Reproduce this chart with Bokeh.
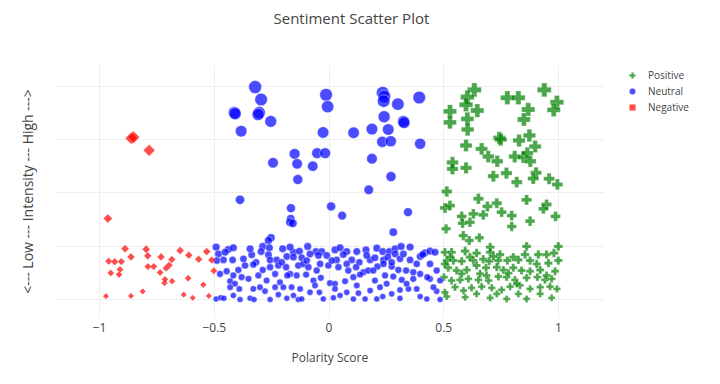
import numpy as np
from bokeh.plotting import figure
from bokeh.models import (Range1d, FixedTicker, Legend, LegendItem, ColumnDataSource,
                          Title, BoxAnnotation)
from bokeh.embed import file_html
from bokeh.resources import INLINE

# ---------------- data ----------------
categories = ["Positive", "Neutral", "Negative"]
x_ticks = [-1, -0.5, 0, 0.5, 1]
x_tick_labels = ["\u22121", "\u22120.5", "0", "0.5", "1"]
y_ticks = [0, 0.25, 0.5, 0.75, 1.0]

neg_x = [-0.964, -0.889, -0.797, -0.863, -0.96, -0.934, -0.905, -0.79, -0.732, -0.685,
         -0.649, -0.611, -0.568, -0.533, -0.511, -0.911, -0.951, -0.915, -0.789, -0.764,
         -0.697, -0.71, -0.736, -0.684, -0.717, -0.715, -0.614, -0.502, -0.548, -0.972,
         -0.863, -0.812, -0.633, -0.594, -0.524, -0.862, -0.852, -0.784]
neg_y = [0.38, 0.238, 0.236, 0.20, 0.18, 0.177, 0.178, 0.205, 0.20, 0.188,
         0.23, 0.208, 0.189, 0.225, 0.185, 0.141, 0.125, 0.117, 0.155, 0.155,
         0.161, 0.147, 0.127, 0.086, 0.078, 0.095, 0.10, 0.135, 0.069, 0.016,
         0.017, 0.038, 0.023, 0.008, 0.017, 0.757, 0.762, 0.70]

neu_x = [
    # upper scattered
    -0.322, -0.296, -0.413, -0.409, -0.304, -0.309, -0.254, -0.383, -0.013, -0.006,
    -0.026, 0.107, 0.187, 0.258, 0.234, 0.241, 0.238, 0.30, 0.393, 0.24,
    0.324, 0.327, 0.232, 0.269, 0.397, -0.15, -0.052, -0.017, -0.244, -0.139,
    -0.071, -0.136, 0.187, 0.27, 0.173, -0.388, -0.166, 0.009, 0.057, 0.344,
    -0.167, -0.17, -0.158, 0.28, -0.253, -0.264,
    # dense band
    -0.492, -0.439, -0.417, -0.289, -0.260, -0.202, -0.155, -0.129, -0.093, -0.057,
    -0.032, 0.026, 0.077, 0.121, 0.161, 0.208, 0.234, 0.263, 0.288, 0.314,
    0.353, 0.397, 0.418, 0.44,
    -0.482, -0.46, -0.42, -0.337, -0.318, -0.296, -0.264, -0.257, -0.228, -0.184,
    -0.155, -0.119, -0.083, -0.046, -0.01, 0.033, 0.062, 0.099, 0.132, 0.179,
    0.2, 0.237, 0.256, 0.288, 0.309, 0.353, 0.408, 0.462,
    -0.475, -0.446, -0.395, -0.366, -0.33, -0.289, -0.257, -0.221, -0.187, -0.17,
    -0.134, -0.112, -0.09, -0.054, -0.039, -0.003, 0.041, 0.077, 0.118, 0.15,
    0.171, 0.211, 0.237, 0.273, 0.302, 0.336, 0.367, 0.397, 0.44, 0.469,
    -0.431, -0.41, -0.381, -0.351, -0.308, -0.272, -0.214, -0.182, -0.141, -0.1,
    -0.068, -0.036, 0.004, 0.026, 0.07, 0.106, 0.135, 0.2, 0.244, 0.28,
    0.317, 0.367, 0.428,
    -0.431, -0.391, -0.33, -0.279, -0.235, -0.199, -0.163, -0.126, -0.083, -0.042,
    0.026, 0.077, 0.128, 0.179, 0.222, 0.273, 0.309, 0.346, 0.382, 0.469,
    -0.492, -0.472, -0.458, -0.388, -0.344, -0.327, -0.257, -0.184, -0.134, -0.119,
    -0.025, 0.019, 0.106, 0.157, 0.208, 0.234, 0.309, 0.426, 0.484,
    -0.453, -0.373, -0.206, -0.097, 0.012, 0.164, 0.273, 0.382, -0.417, -0.235,
    0.084, 0.338, -0.301, -0.061, 0.121, 0.251, -0.417, -0.221, 0.048, 0.397,
    0.455, 0.484, -0.489, -0.344, -0.17, 0.048, 0.324, 0.44, 0.193, -0.155]
neu_y = [
    0.997, 0.939, 0.877, 0.872, 0.877, 0.868, 0.836, 0.79, 0.961, 0.905,
    0.784, 0.783, 0.80, 0.798, 0.97, 0.953, 0.931, 0.917, 0.948, 0.858,
    0.836, 0.83, 0.74, 0.743, 0.731, 0.684, 0.687, 0.687, 0.642, 0.637,
    0.626, 0.563, 0.661, 0.577, 0.515, 0.468, 0.429, 0.437, 0.394, 0.41,
    0.379, 0.363, 0.358, 0.316, 0.29, 0.277,
    0.246, 0.235, 0.243, 0.249, 0.243, 0.238, 0.222, 0.227, 0.249, 0.225,
    0.225, 0.233, 0.225, 0.225, 0.233, 0.241, 0.225, 0.225, 0.238, 0.249,
    0.246, 0.202, 0.219, 0.227,
    0.214, 0.186, 0.186, 0.21, 0.175, 0.225, 0.21, 0.186, 0.186, 0.202,
    0.199, 0.196, 0.214, 0.207, 0.207, 0.186, 0.211, 0.186, 0.175, 0.186,
    0.196, 0.186, 0.199, 0.214, 0.191, 0.186, 0.211, 0.222,
    0.12, 0.133, 0.139, 0.16, 0.164, 0.139, 0.152, 0.16, 0.152, 0.12,
    0.16, 0.167, 0.152, 0.136, 0.167, 0.16, 0.152, 0.167, 0.152, 0.128,
    0.136, 0.155, 0.167, 0.155, 0.139, 0.136, 0.128, 0.12, 0.097, 0.136,
    0.086, 0.074, 0.105, 0.097, 0.113, 0.089, 0.081, 0.113, 0.113, 0.117,
    0.089, 0.102, 0.077, 0.074, 0.086, 0.105, 0.117, 0.089, 0.113, 0.108,
    0.092, 0.097, 0.105,
    0.058, 0.05, 0.05, 0.039, 0.058, 0.058, 0.058, 0.05, 0.034, 0.034,
    0.05, 0.034, 0.03, 0.042, 0.058, 0.027, 0.045, 0.05, 0.05, 0.039,
    0.003, 0.008, 0.006, 0.0, 0.006, 0.0, 0.0, 0.006, 0.0, 0.003,
    0.003, 0.008, 0.002, 0.003, 0.003, 0.014, 0.006, 0.003, 0.0,
    0.222, 0.191, 0.175, 0.183, 0.183, 0.207, 0.175, 0.167, 0.113, 0.12,
    0.136, 0.074, 0.058, 0.066, 0.066, 0.074, 0.019, 0.023, 0.019, 0.014,
    0.058, 0.089, 0.183, 0.238, 0.246, 0.243, 0.214, 0.167, 0.136, 0.019]

pos_x = [
    # upper scattered
    0.633, 0.603, 0.597, 0.527, 0.646, 0.603, 0.527, 0.604, 0.777, 0.825,
    0.938, 0.993, 0.979, 0.868, 0.849, 0.742, 0.748, 0.828, 0.873, 0.898,
    0.597, 0.665, 0.694, 0.733, 0.809, 0.847, 0.864, 0.877, 0.538, 0.538,
    0.597, 0.716, 0.773, 0.818, 0.902, 0.89, 0.959, 0.995,
    0.513, 0.651, 0.731, 0.69, 0.505, 0.527, 0.861, 0.948, 0.934, 0.752,
    0.629, 0.578, 0.672, 0.796, 0.987, 0.582, 0.614, 0.876, 0.51, 0.796,
    0.585, 0.611, 0.655,
    # dense band
    0.999, 0.861, 0.702, 0.505, 0.534, 0.593, 0.643, 0.702, 0.745, 0.803,
    0.854, 0.912, 0.948, 0.98, 0.513, 0.542, 0.578, 0.629, 0.672, 0.698,
    0.737, 0.777, 0.825, 0.905, 0.956, 0.519, 0.556, 0.6, 0.643, 0.684,
    0.731, 0.76, 0.803, 0.839, 0.876, 0.92, 0.985, 0.505, 0.534, 0.571,
    0.607, 0.651, 0.695, 0.738, 0.774, 0.81, 0.861, 0.908, 0.941, 0.97,
    0.549, 0.621, 0.665, 0.709, 0.752, 0.789, 0.832, 0.876, 0.92, 0.963,
    0.993, 0.513, 0.593, 0.702, 0.774, 0.861, 0.97, 0.505, 0.643, 0.825,
    0.614, 0.716, 0.876, 0.658, 0.782, 0.948, 0.578, 0.818, 0.92, 0.586,
    0.731, 0.501, 0.999, 0.527, 0.686]
pos_y = [
    0.984, 0.95, 0.914, 0.883, 0.887, 0.848, 0.831, 0.798, 0.947, 0.947,
    0.984, 0.926, 0.89, 0.892, 0.845, 0.759, 0.751, 0.746, 0.77, 0.718,
    0.723, 0.707, 0.671, 0.649, 0.671, 0.668, 0.687, 0.649, 0.643, 0.613,
    0.618, 0.579, 0.593, 0.551, 0.595, 0.568, 0.567, 0.54,
    0.507, 0.473, 0.452, 0.437, 0.43, 0.441, 0.468, 0.446, 0.426, 0.41,
    0.402, 0.39, 0.397, 0.394, 0.39, 0.358, 0.363, 0.368, 0.332, 0.343,
    0.30, 0.277, 0.29,
    0.249, 0.249, 0.246, 0.222, 0.222, 0.227, 0.218, 0.222, 0.211, 0.199,
    0.211, 0.211, 0.211, 0.218, 0.183, 0.183, 0.18, 0.183, 0.189, 0.18,
    0.183, 0.183, 0.186, 0.167, 0.171, 0.149, 0.136, 0.139, 0.16, 0.149,
    0.152, 0.139, 0.149, 0.136, 0.133, 0.139, 0.133, 0.167, 0.089, 0.092,
    0.097, 0.092, 0.089, 0.108, 0.105, 0.092, 0.102, 0.105, 0.092, 0.097,
    0.058, 0.055, 0.061, 0.055, 0.045, 0.061, 0.066, 0.05, 0.058, 0.061,
    0.05, 0.014, 0.011, 0.008, 0.003, 0.003, 0.008, 0.034, 0.027, 0.027,
    0.199, 0.202, 0.183, 0.121, 0.124, 0.113, 0.121, 0.074, 0.027, 0.042,
    0.027, 0.105, 0.183, 0.199, 0.113]

x_lo, x_hi = -1.192, 1.196       # visible data span of the plot area

# ---------------- figure ----------------
FONT = "Open Sans"
TXT = "#444444"

# the frame runs on to the right edge so the legend can sit inside it;
# the part right of x_hi is masked white, like plotly's legend margin
p = figure(frame_width=665, frame_height=254,
           min_border_left=55, min_border_right=0, min_border_top=64, min_border_bottom=66,
           x_range=Range1d(x_lo, x_lo + (x_hi - x_lo) * 665 / 548), y_range=Range1d(-0.089, 1.103),
           output_backend="svg", toolbar_location=None,
           background_fill_color="white", border_fill_color="white")
p.outline_line_color = None

# real title (the figure's own title is laid out outermost)
p.title.text = "Sentiment Scatter Plot"
p.title.align = "left"
p.title.offset = 218
p.title.text_font = FONT
p.title.text_font_size = "15px"
p.title.text_font_style = "normal"
p.title.text_color = TXT

# blank spacer between the frame and the title
p.add_layout(Title(text=" ", text_font_size="1px", standoff=29), "above")

# x axis
p.xaxis.ticker = FixedTicker(ticks=x_ticks)
p.xaxis.major_label_overrides = {t: l for t, l in zip(x_ticks, x_tick_labels)}
p.xaxis.axis_line_color = None
p.xaxis.major_tick_line_color = None
p.xaxis.minor_tick_line_color = None
p.xaxis.major_tick_out = 0
p.xaxis.major_label_standoff = 4
p.xaxis.major_label_text_font = FONT
p.xaxis.major_label_text_font_size = "12px"
p.xaxis.major_label_text_color = TXT

# x axis title, centred under the visible plot area
p.add_layout(Title(text="Polarity Score", align="left", offset=236, standoff=25,
                   text_font=FONT, text_font_size="12px", text_font_style="normal",
                   text_color=TXT), "below")

# y axis: no tick labels, only the title
p.yaxis.ticker = FixedTicker(ticks=y_ticks)
p.yaxis.major_label_overrides = {t: "" for t in y_ticks}
p.yaxis.axis_line_color = None
p.yaxis.major_tick_line_color = None
p.yaxis.minor_tick_line_color = None
p.yaxis.major_tick_out = 0
p.yaxis.major_label_standoff = 0
p.yaxis.axis_label = "<--- Low --- Intensity --- High --->"
p.yaxis.axis_label_text_font = FONT
p.yaxis.axis_label_text_font_size = "14px"
p.yaxis.axis_label_text_font_style = "normal"
p.yaxis.axis_label_text_color = TXT
p.yaxis.axis_label_standoff = 19

p.xgrid.ticker = FixedTicker(ticks=x_ticks)
p.ygrid.ticker = FixedTicker(ticks=y_ticks)
p.xgrid.grid_line_color = "#eeeeee"
p.ygrid.grid_line_color = "#eeeeee"

# white mask over the legend margin (hides the grid there)
p.add_layout(BoxAnnotation(left=x_hi, fill_color="white", fill_alpha=1.0,
                           line_alpha=0, level="underlay"))

pos_src = ColumnDataSource(dict(x=pos_x, y=pos_y, s=7 + 7 * np.array(pos_y)))
neu_src = ColumnDataSource(dict(x=neu_x, y=neu_y, s=6 + 7 * np.array(neu_y)))
neg_src = ColumnDataSource(dict(x=neg_x, y=neg_y, s=(6 + 8 * np.array(neg_y)) / 1.41))

r_pos = p.scatter("x", "y", source=pos_src, marker="plus", size="s",
                  fill_color="green", fill_alpha=0.7, line_color="white", line_alpha=0.5, line_width=0.5)
r_neu = p.scatter("x", "y", source=neu_src, marker="circle", size="s",
                  fill_color="blue", fill_alpha=0.7, line_color="white", line_alpha=0.6, line_width=0.7)
r_neg = p.scatter("x", "y", source=neg_src, marker="square", size="s", angle=np.pi / 4,
                  fill_color="red", fill_alpha=0.7, line_color="white", line_alpha=0.5, line_width=0.5)

legend = Legend(items=[LegendItem(label=categories[0], renderers=[r_pos]),
                       LegendItem(label=categories[1], renderers=[r_neu]),
                       LegendItem(label=categories[2], renderers=[r_neg])],
                location=(569, 203), orientation="vertical",
                glyph_width=16, glyph_height=16, label_height=16, spacing=0,
                padding=0, margin=0, label_standoff=8,
                label_text_font=FONT, label_text_font_size="10px", label_text_color=TXT,
                border_line_color=None, background_fill_alpha=0)
p.add_layout(legend, "center")

open("out.html", "w").write(file_html(p, INLINE))
